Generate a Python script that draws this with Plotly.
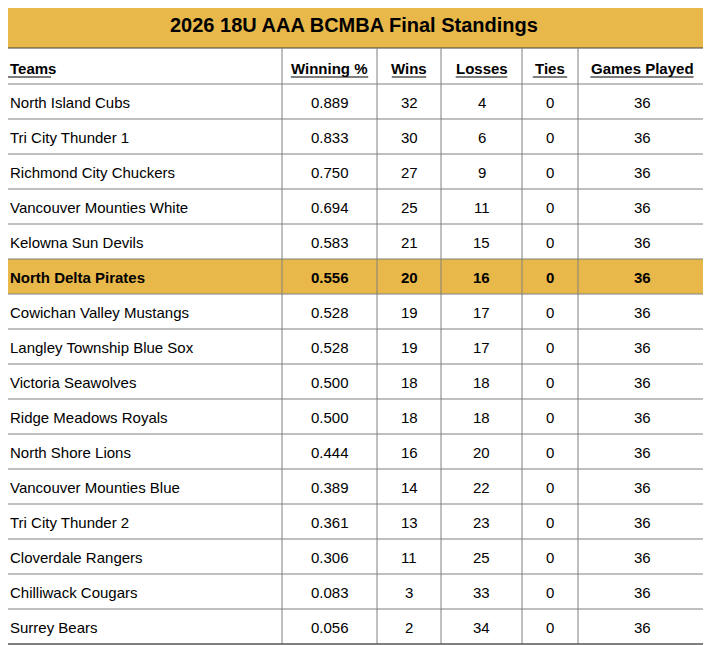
import plotly.graph_objects as go

title = "2026 18U AAA BCMBA Final Standings"
headers = ["Teams", "Winning %", "Wins", "Losses", "Ties", "Games Played"]
teams = ["North Island Cubs", "Tri City Thunder 1", "Richmond City Chuckers",
         "Vancouver Mounties White", "Kelowna Sun Devils", "North Delta Pirates",
         "Cowichan Valley Mustangs", "Langley Township Blue Sox", "Victoria Seawolves",
         "Ridge Meadows Royals", "North Shore Lions", "Vancouver Mounties Blue",
         "Tri City Thunder 2", "Cloverdale Rangers", "Chilliwack Cougars", "Surrey Bears"]
wins = [32, 30, 27, 25, 21, 20, 19, 19, 18, 18, 16, 14, 13, 11, 3, 2]
losses = [4, 6, 9, 11, 15, 16, 17, 17, 18, 18, 20, 22, 23, 25, 33, 34]
ties = [0] * 16
highlight = "North Delta Pirates"

gold = "#E8B84B"
line = "#808080"
font = "Liberation Sans"
games = [w + l + t for w, l, t in zip(wins, losses, ties)]
pct = ["%.3f" % (w / g) for w, g in zip(wins, games)]
cols = [teams, pct, wins, losses, ties, games]

xe = [2, 282, 377, 441, 522, 578, 706]
y_title, y_head, row_h = 2, 48, 35
y0 = 84
y_end = y0 + row_h * len(teams)

fig = go.Figure()
shapes, ann = [], []
shapes.append(dict(type="rect", x0=xe[0], x1=xe[-1], y0=y_title, y1=y_head, fillcolor=gold,
                   line=dict(color="#404040", width=1)))
ann.append(dict(x=(xe[0] + xe[-1]) / 2, y=(y_title + y_head) / 2, text="<b>%s</b>" % title,
                showarrow=False, font=dict(family=font, size=20, color="black")))
for i, t in enumerate(teams):
    if t == highlight:
        shapes.append(dict(type="rect", x0=xe[0], x1=xe[-1], y0=y0 + i * row_h, y1=y0 + (i + 1) * row_h,
                           fillcolor=gold, line=dict(width=0), layer="below"))

# header
for j, h in enumerate(headers):
    cy = (y_head + y0) / 2 + 2
    w = len(h) * 8.6
    if j == 0:
        x, anchor, ux0 = xe[0] + 6, "left", xe[0] + 6
    else:
        x, anchor, ux0 = (xe[j] + xe[j + 1]) / 2, "center", (xe[j] + xe[j + 1]) / 2 - w / 2
    ann.append(dict(x=x, y=cy, text="<b>%s</b>" % h, xanchor=anchor, showarrow=False,
                    font=dict(family=font, size=15, color="black")))
    shapes.append(dict(type="line", x0=ux0, x1=ux0 + w, y0=cy + 9, y1=cy + 9,
                       line=dict(color="black", width=1.2)))

# cells
for i in range(len(teams)):
    cy = y0 + i * row_h + row_h / 2 + 1
    bold = teams[i] == highlight
    for j, c in enumerate(cols):
        txt = str(c[i])
        if bold:
            txt = "<b>%s</b>" % txt
        if j == 0:
            ann.append(dict(x=xe[0] + 6, y=cy, text=txt, xanchor="left", showarrow=False,
                            font=dict(family=font, size=15, color="black")))
        else:
            ann.append(dict(x=(xe[j] + xe[j + 1]) / 2, y=cy, text=txt, showarrow=False,
                            font=dict(family=font, size=15, color="black")))

# grid lines
for k in range(len(teams) + 1):
    y = y0 + k * row_h
    shapes.append(dict(type="line", x0=xe[0], x1=xe[-1], y0=y, y1=y, line=dict(color=line, width=1)))
for x in xe:
    shapes.append(dict(type="line", x0=x, x1=x, y0=y_head, y1=y_end,
                       line=dict(color="#404040" if x in (xe[0], xe[-1]) else line, width=1)))
shapes.append(dict(type="line", x0=xe[0], x1=xe[-1], y0=y_end, y1=y_end, line=dict(color="#404040", width=1)))

# page has an 8px body margin, so offset the axis ranges to land on window pixels
fig.update_layout(width=711, height=645, margin=dict(l=0, r=0, t=0, b=0),
                  paper_bgcolor="white", plot_bgcolor="white", shapes=shapes, annotations=ann,
                  xaxis=dict(range=[8, 719], visible=False, fixedrange=True),
                  yaxis=dict(range=[653, 8], visible=False, fixedrange=True))
fig.write_html("out.html")
